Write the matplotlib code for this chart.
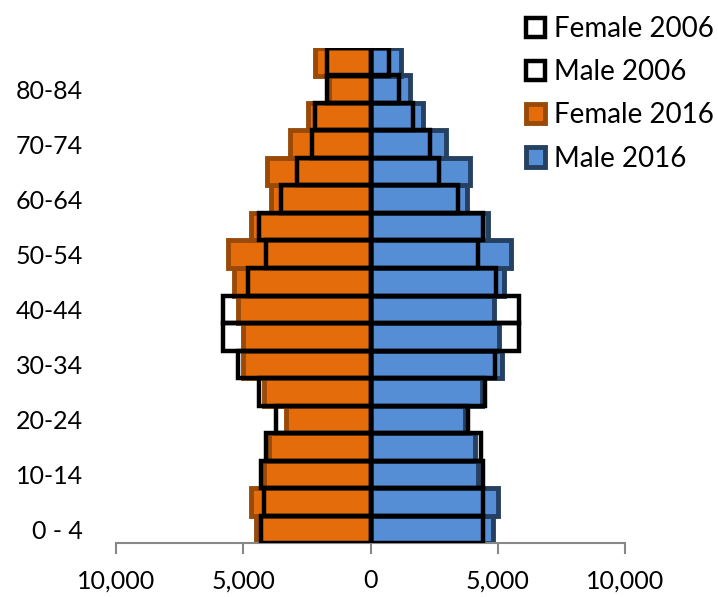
import numpy as np
import matplotlib.pyplot as plt

# age groups, bottom to top
ages = ['0 - 4', '5-9', '10-14', '15-19', '20-24', '25-29', '30-34', '35-39', '40-44',
        '45-49', '50-54', '55-59', '60-64', '65-69', '70-74', '75-79', '80-84', '85+']

female_2016 = [4490, 4680, 4200, 4000, 3320, 4200, 5000, 5010, 5210,
               5370, 5600, 4680, 3900, 4080, 3180, 2460, 1650, 2200]
female_2006 = [4310, 4200, 4310, 4100, 3700, 4400, 5200, 5810, 5810,
               4800, 4110, 4400, 3500, 2880, 2280, 2190, 1700, 1690]
male_2006 = [4420, 4420, 4420, 4330, 3820, 4500, 4910, 5820, 5820,
             4920, 4210, 4420, 3420, 2710, 2320, 1675, 1125, 730]
male_2016 = [4800, 5000, 4210, 4120, 3700, 4400, 5170, 5040, 4840,
             5260, 5520, 4600, 3780, 3900, 2980, 2070, 1570, 1190]

xticks = [-10000, -5000, 0, 5000, 10000]

plt.rcParams['font.family'] = ['Lato', 'DejaVu Sans']
fs = 18
gray = '#878787'

fig = plt.figure(figsize=(7.18, 5.97), dpi=100)
ax = fig.add_axes([116 / 718, 54 / 597, 509 / 718, 495 / 597])

y = np.arange(len(ages))
f16 = ax.barh(y, -np.array(female_2016), height=1.0, color='#E46C0A',
              edgecolor='#9A4A08', linewidth=3.5, label='Female 2016', zorder=2)
m16 = ax.barh(y, male_2016, height=1.0, color='#558ED5',
              edgecolor='#254061', linewidth=3.5, label='Male 2016', zorder=2)
f06 = ax.barh(y, -np.array(female_2006), height=1.0, facecolor='none',
              edgecolor='black', linewidth=3.2, label='Female 2006', zorder=3)
m06 = ax.barh(y, male_2006, height=1.0, facecolor='none',
              edgecolor='black', linewidth=3.2, label='Male 2006', zorder=3)

ax.set_xlim(-10000, 10000)
ax.set_ylim(-0.5, len(ages) - 0.5)

ax.set_xticks(xticks)
ax.set_xticklabels(['{:,}'.format(abs(v)) for v in xticks], fontsize=fs)
ax.tick_params(axis='x', direction='out', length=8, width=1.5, color=gray, pad=11)

ax.set_yticks(y[::2])
ax.set_yticklabels(ages[::2], fontsize=fs)
ax.tick_params(axis='y', length=0, pad=24)

for s in ['left', 'top', 'right']:
    ax.spines[s].set_visible(False)
ax.spines['bottom'].set_color(gray)
ax.spines['bottom'].set_linewidth(1.5)

# centre axis with ticks at group boundaries
sec = ax.secondary_yaxis(0.5)
sec.set_yticks(np.arange(0.5, len(ages) - 0.5, 1))
sec.set_yticklabels([])
sec.yaxis.set_ticks_position('left')
sec.tick_params(direction='out', length=5, width=1.5, color=gray)
sec.spines['left'].set_color(gray)
sec.spines['left'].set_linewidth(1.5)

ax.legend(handles=[f06, m06, f16, m16], loc='upper left',
          bbox_to_anchor=(526 / 718, 1 - 16 / 597), bbox_transform=fig.transFigure,
          frameon=False, fontsize=20, handlelength=0.7, handleheight=0.7,
          handletextpad=0.3, labelspacing=0.62, borderpad=0, borderaxespad=0)

fig.savefig('out.png', dpi=100)
